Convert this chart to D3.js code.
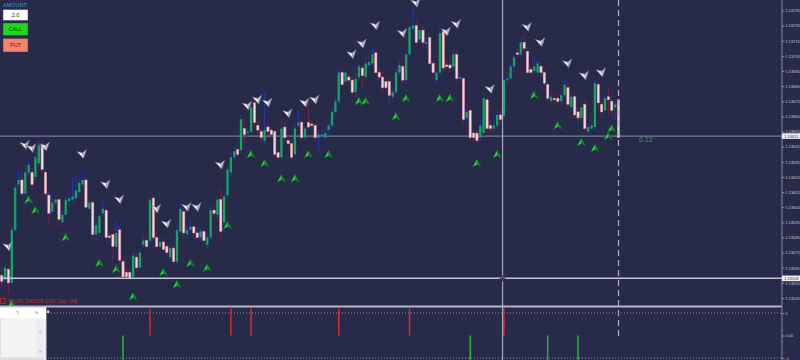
<!DOCTYPE html>
<html>
<head>
<meta charset="utf-8">
<script src="https://cdn.jsdelivr.net/npm/d3@7"></script>
<style>
  body { margin: 0; background: #282a4a; }
  svg { display: block; font-family: 'Liberation Sans', Arial, sans-serif; }
</style>
</head>
<body>
<div class="canvas"></div>
<script>
// M1 candles: [open, high, low, close]
const ohlc = [
  [1.13560,1.13565,1.13553,1.13556],[1.13557,1.13567,1.13555,1.13565],[1.13564,1.13565,1.13548,1.13555],
  [1.13555,1.13593,1.13553,1.13590],[1.13590,1.13621,1.13589,1.13618],[1.13620,1.13630,1.13618,1.13623],
  [1.13623,1.13630,1.13612,1.13614],[1.13614,1.13633,1.13612,1.13628],[1.13628,1.13636,1.13626,1.13633],
  [1.13628,1.13631,1.13616,1.13620],[1.13625,1.13642,1.13623,1.13638],[1.13634,1.13649,1.13633,1.13646],
  [1.13646,1.13649,1.13628,1.13630],[1.13628,1.13630,1.13612,1.13614],[1.13613,1.13615,1.13593,1.13601],
  [1.13602,1.13615,1.13600,1.13608],[1.13608,1.13613,1.13606,1.13610],[1.13610,1.13612,1.13592,1.13597],
  [1.13595,1.13603,1.13593,1.13600],[1.13600,1.13612,1.13599,1.13610],[1.13609,1.13616,1.13606,1.13611],
  [1.13610,1.13625,1.13608,1.13612],[1.13611,1.13626,1.13609,1.13616],[1.13615,1.13624,1.13613,1.13621],
  [1.13620,1.13628,1.13618,1.13623],[1.13623,1.13625,1.13603,1.13605],[1.13604,1.13611,1.13603,1.13608],
  [1.13608,1.13610,1.13585,1.13587],[1.13587,1.13595,1.13582,1.13593],[1.13588,1.13601,1.13586,1.13599],
  [1.13601,1.13610,1.13599,1.13604],[1.13603,1.13605,1.13582,1.13585],[1.13586,1.13588,1.13581,1.13585],
  [1.13587,1.13589,1.13570,1.13579],[1.13579,1.13597,1.13577,1.13588],[1.13590,1.13593,1.13567,1.13570],
  [1.13569,1.13571,1.13557,1.13559],[1.13562,1.13565,1.13557,1.13559],[1.13562,1.13564,1.13556,1.13558],
  [1.13559,1.13575,1.13557,1.13573],[1.13572,1.13575,1.13562,1.13565],[1.13565,1.13578,1.13564,1.13575],
  [1.13580,1.13587,1.13578,1.13583],[1.13583,1.13586,1.13577,1.13579],[1.13583,1.13612,1.13581,1.13610],
  [1.13611,1.13613,1.13583,1.13585],[1.13585,1.13588,1.13577,1.13579],[1.13579,1.13585,1.13578,1.13582],
  [1.13582,1.13585,1.13575,1.13577],[1.13579,1.13581,1.13573,1.13575],[1.13572,1.13580,1.13570,1.13578],
  [1.13578,1.13580,1.13567,1.13569],[1.13569,1.13593,1.13567,1.13590],[1.13589,1.13608,1.13587,1.13604],
  [1.13602,1.13606,1.13585,1.13588],[1.13587,1.13593,1.13585,1.13590],[1.13590,1.13597,1.13588,1.13592],
  [1.13592,1.13595,1.13585,1.13588],[1.13588,1.13590,1.13582,1.13585],[1.13585,1.13591,1.13583,1.13589],
  [1.13589,1.13591,1.13581,1.13583],[1.13580,1.13588,1.13578,1.13585],[1.13585,1.13606,1.13583,1.13603],
  [1.13603,1.13606,1.13599,1.13601],[1.13600,1.13612,1.13598,1.13610],[1.13610,1.13618,1.13585,1.13589],
  [1.13595,1.13614,1.13593,1.13612],[1.13613,1.13633,1.13611,1.13630],[1.13628,1.13641,1.13626,1.13638],
  [1.13638,1.13645,1.13636,1.13642],[1.13643,1.13646,1.13638,1.13640],[1.13643,1.13666,1.13641,1.13663],
  [1.13657,1.13664,1.13647,1.13653],[1.13654,1.13659,1.13651,1.13655],[1.13655,1.13674,1.13653,1.13671],
  [1.13674,1.13677,1.13658,1.13661],[1.13659,1.13663,1.13653,1.13656],[1.13655,1.13657,1.13648,1.13651],
  [1.13649,1.13681,1.13647,1.13656],[1.13658,1.13661,1.13653,1.13655],[1.13656,1.13658,1.13651,1.13653],
  [1.13655,1.13657,1.13638,1.13640],[1.13641,1.13643,1.13636,1.13638],[1.13638,1.13663,1.13636,1.13657],
  [1.13658,1.13661,1.13649,1.13651],[1.13649,1.13652,1.13645,1.13647],[1.13647,1.13649,1.13636,1.13638],
  [1.13640,1.13660,1.13638,1.13657],[1.13659,1.13669,1.13657,1.13661],[1.13661,1.13664,1.13649,1.13651],
  [1.13651,1.13659,1.13649,1.13657],[1.13661,1.13674,1.13656,1.13658],[1.13660,1.13663,1.13656,1.13659],
  [1.13659,1.13661,1.13649,1.13651],[1.13651,1.13655,1.13643,1.13653],[1.13652,1.13656,1.13649,1.13653],
  [1.13651,1.13657,1.13649,1.13654],[1.13656,1.13661,1.13654,1.13659],[1.13659,1.13671,1.13657,1.13668],
  [1.13668,1.13677,1.13666,1.13675],[1.13675,1.13697,1.13673,1.13694],[1.13694,1.13697,1.13684,1.13686],
  [1.13688,1.13696,1.13686,1.13694],[1.13691,1.13694,1.13687,1.13689],[1.13689,1.13692,1.13678,1.13681],
  [1.13681,1.13694,1.13678,1.13690],[1.13691,1.13700,1.13689,1.13698],[1.13697,1.13699,1.13684,1.13692],
  [1.13691,1.13704,1.13689,1.13700],[1.13699,1.13704,1.13697,1.13701],[1.13700,1.13710,1.13698,1.13706],
  [1.13707,1.13710,1.13692,1.13694],[1.13694,1.13697,1.13689,1.13691],[1.13691,1.13694,1.13681,1.13684],
  [1.13688,1.13690,1.13683,1.13684],[1.13688,1.13690,1.13673,1.13679],[1.13678,1.13684,1.13676,1.13681],
  [1.13681,1.13697,1.13679,1.13694],[1.13694,1.13702,1.13692,1.13699],[1.13698,1.13701,1.13687,1.13689],
  [1.13689,1.13709,1.13687,1.13706],[1.13706,1.13727,1.13704,1.13724],[1.13723,1.13739,1.13721,1.13725],
  [1.13725,1.13729,1.13712,1.13714],[1.13716,1.13725,1.13714,1.13722],[1.13722,1.13725,1.13710,1.13714],
  [1.13713,1.13717,1.13709,1.13714],[1.13717,1.13720,1.13698,1.13700],[1.13700,1.13702,1.13692,1.13694],
  [1.13689,1.13696,1.13687,1.13694],[1.13694,1.13725,1.13692,1.13720],[1.13721,1.13723,1.13694,1.13697],
  [1.13699,1.13702,1.13696,1.13698],[1.13699,1.13706,1.13694,1.13697],[1.13698,1.13710,1.13696,1.13706],
  [1.13706,1.13709,1.13688,1.13690],[1.13690,1.13693,1.13688,1.13691],[1.13690,1.13692,1.13661,1.13663],
  [1.13664,1.13673,1.13661,1.13668],[1.13669,1.13672,1.13649,1.13651],[1.13654,1.13657,1.13648,1.13651],
  [1.13654,1.13656,1.13647,1.13649],[1.13651,1.13663,1.13649,1.13659],[1.13654,1.13681,1.13652,1.13677],
  [1.13676,1.13678,1.13655,1.13657],[1.13659,1.13663,1.13654,1.13657],[1.13657,1.13664,1.13654,1.13659],
  [1.13659,1.13669,1.13657,1.13666],[1.13666,1.13669,1.13660,1.13663],[1.13665,1.13692,1.13663,1.13689],
  [1.13689,1.13694,1.13686,1.13690],[1.13690,1.13701,1.13689,1.13698],[1.13698,1.13708,1.13696,1.13704],
  [1.13707,1.13710,1.13704,1.13706],[1.13706,1.13717,1.13704,1.13714],[1.13714,1.13719,1.13708,1.13710],
  [1.13708,1.13710,1.13692,1.13694],[1.13696,1.13698,1.13691,1.13694],[1.13695,1.13704,1.13693,1.13698],
  [1.13694,1.13702,1.13692,1.13700],[1.13698,1.13700,1.13691,1.13694],[1.13694,1.13696,1.13685,1.13687],
  [1.13686,1.13688,1.13675,1.13677],[1.13675,1.13681,1.13673,1.13678],[1.13677,1.13680,1.13674,1.13676],
  [1.13677,1.13680,1.13672,1.13675],[1.13675,1.13683,1.13672,1.13679],[1.13679,1.13689,1.13677,1.13686],
  [1.13684,1.13687,1.13671,1.13673],[1.13671,1.13681,1.13669,1.13678],[1.13678,1.13681,1.13664,1.13666],
  [1.13668,1.13671,1.13661,1.13664],[1.13664,1.13674,1.13661,1.13671],[1.13673,1.13676,1.13655,1.13657],
  [1.13655,1.13660,1.13652,1.13658],[1.13657,1.13663,1.13655,1.13659],[1.13658,1.13689,1.13656,1.13687],
  [1.13686,1.13688,1.13671,1.13674],[1.13673,1.13676,1.13664,1.13668],[1.13669,1.13680,1.13667,1.13677],
  [1.13678,1.13685,1.13666,1.13676],[1.13675,1.13680,1.13665,1.13669],[1.13671,1.13676,1.13663,1.13673],
  [1.13676,1.13677,1.13650,1.13651]
]

// sell (white) arrows: candle index + price
const sellIdx = [2,7,9,13,24,31,35,46,49,55,58,65,73,76,79,85,90,93,104,107,111,119,123,132,135,145,156,160,168,173,178]
const sellPrice = [1.13579,1.13646,1.13644,1.13645,1.13640,1.13620,1.13610,1.13604,1.13594,1.13605,1.13605,1.13633,
  1.13672,1.13676,1.13674,1.13667,1.13674,1.13676,1.13706,1.13713,1.13725,1.13720,1.13740,1.13721,1.13726,
  1.13683,1.13724,1.13714,1.13700,1.13692,1.13694]

// buy (green) arrows
const buyIdx = [3,8,10,19,29,34,39,48,52,56,61,67,74,78,83,87,91,97,106,108,117,120,130,133,141,147,158,165,172,176,180,181]
const buyPrice = [1.13541,1.13610,1.13603,1.13585,1.13568,1.13564,1.13546,1.13562,1.13554,1.13568,1.13565,1.13593,
  1.13640,1.13634,1.13624,1.13624,1.13640,1.13640,1.13675,1.13675,1.13665,1.13677,1.13677,1.13677,1.13634,
  1.13640,1.13679,1.13659,1.13648,1.13644,1.13652,1.13657]

// lower indicator histogram
const barIdx = [36,44,68,74,100,121,139,149,162,171]
const barVal = [-1.2,1.2,1.2,1.2,1.2,1.2,-1.2,1.2,-1.2,-1.2]

const priceTicks = [1.13545,1.13555,1.13565,1.13575,1.13585,1.13595,1.13605,1.13615,1.13625,1.13635,
  1.13645,1.13655,1.13665,1.13675,1.13685,1.13695,1.13705,1.13715,1.13725,1.13735]
const indTicks = [-1, 0, 1]
const indLabels = ['-1', '0.00', '1']

const lastPrice = 1.13651
const crossPrice = 1.13558
const crossIdx = 148.6
const timerText = '0.12'
const amount = '2.0'
const statusText = 'M1(30): DM/DOS [2:00 | Exp: 1M]'

const width = 800, height = 360
const axisX = 782

const svg = d3.select('.canvas')
              .append('svg')
              .attr('width', width)
              .attr('height', height)

svg.append('rect').attr('width', width).attr('height', height).attr('fill', '#282a4a')

//scales
const x = d3.scaleLinear()
            .domain([0, ohlc.length - 1])
            .range([1.7, 618.5])
const y = d3.scaleLinear()
            .domain([1.13545, 1.13735])
            .range([298, 10.5])
const yInd = d3.scaleLinear()
               .domain([-1, 1])
               .range([358, 313])

// current price line
svg.append('line')
   .attr('x1', 0).attr('x2', axisX)
   .attr('y1', y(lastPrice) - 1.5).attr('y2', y(lastPrice) - 1.5)
   .attr('stroke', '#8e90a8').attr('stroke-width', 1)

// candles
const candles = svg.append('g')
                   .selectAll('g')
                   .data(ohlc)
                   .join('g')

candles.append('line')
       .attr('x1', (d, i) => x(i))
       .attr('x2', (d, i) => x(i))
       .attr('y1', d => y(d[1]))
       .attr('y2', d => y(d[2]))
       .attr('stroke', d => d[3] >= d[0] ? '#2434b4' : '#702448')
       .attr('stroke-width', 1)

candles.append('rect')
       .attr('x', (d, i) => x(i) - 1.15)
       .attr('width', 2.3)
       .attr('y', d => y(Math.max(d[0], d[3])))
       .attr('height', d => Math.max(1, Math.abs(y(d[0]) - y(d[3]))))
       .attr('fill', d => d[3] >= d[0] ? '#15a463' : '#f7d6d9')
       .attr('stroke', d => d[3] >= d[0] ? 'none' : '#d98a9a')
       .attr('stroke-width', 0.5)

// sell arrows
const sell = svg.append('g')
                .selectAll('g')
                .data(sellIdx)
                .join('g')
                .attr('transform', (d, i) => `translate(${x(d)}, ${y(sellPrice[i])}) rotate(-12)`)
sell.append('path').attr('d', 'M0,4.5 L-5,-4 L0,-1.5 Z').attr('fill', '#f4f4f8')
sell.append('path').attr('d', 'M0,4.5 L5,-4 L0,-1.5 Z').attr('fill', '#b9bbcb')
sell.append('path').attr('d', 'M0,4.5 L-5,-4 L0,-1.5 L5,-4 Z')
    .attr('fill', 'none').attr('stroke', '#5e6078').attr('stroke-width', 0.5)

// buy arrows
const buy = svg.append('g')
               .selectAll('g')
               .data(buyIdx)
               .join('g')
               .attr('transform', (d, i) => `translate(${x(d)}, ${y(buyPrice[i])})`)
buy.append('path').attr('d', 'M0,-4.5 L-4.5,4 L0,1.5 Z').attr('fill', '#35d24e')
buy.append('path').attr('d', 'M0,-4.5 L4.5,4 L0,1.5 Z').attr('fill', '#13902c')
buy.append('path').attr('d', 'M0,-4.5 L-4.5,4 L0,1.5 L4.5,4 Z')
   .attr('fill', 'none').attr('stroke', '#0b4a18').attr('stroke-width', 0.5)

// dashed line at the last candle
svg.append('line')
   .attr('x1', x(ohlc.length - 1)).attr('x2', x(ohlc.length - 1))
   .attr('y1', 0).attr('y2', 336)
   .attr('stroke', '#b4b6c8').attr('stroke-width', 1.2)
   .attr('stroke-dasharray', '6,4')

svg.append('text')
   .attr('x', 639).attr('y', 141.5)
   .attr('fill', '#3aa04c').attr('font-size', 7)
   .text(timerText)

// indicator panel
svg.append('line')
   .attr('x1', 0).attr('x2', axisX).attr('y1', 306.5).attr('y2', 306.5)
   .attr('stroke', '#b4b6c8').attr('stroke-width', 2)

svg.selectAll('.lvl')
   .data([1, -1])
   .join('line')
   .attr('class', 'lvl')
   .attr('x1', 48).attr('x2', axisX)
   .attr('y1', d => yInd(d)).attr('y2', d => yInd(d))
   .attr('stroke', '#8a8ca2').attr('stroke-width', 1)
   .attr('stroke-dasharray', '1,2')

svg.append('g')
   .selectAll('line')
   .data(barIdx)
   .join('line')
   .attr('x1', d => x(d)).attr('x2', d => x(d))
   .attr('y1', yInd(0))
   .attr('y2', (d, i) => yInd(barVal[i]))
   .attr('stroke', (d, i) => barVal[i] > 0 ? '#d42a2a' : '#1fb030')
   .attr('stroke-width', 1.6)

// crosshair
svg.append('line')
   .attr('x1', x(crossIdx)).attr('x2', x(crossIdx))
   .attr('y1', 0).attr('y2', height)
   .attr('stroke', '#a6a8bc').attr('stroke-width', 1.2)
svg.append('line')
   .attr('x1', 0).attr('x2', axisX)
   .attr('y1', y(crossPrice)).attr('y2', y(crossPrice))
   .attr('stroke', '#c4c6d4').attr('stroke-width', 1.5)
svg.append('path')
   .attr('d', `M${x(crossIdx) - 3},${y(crossPrice)} h6 M${x(crossIdx)},${y(crossPrice) - 3} v6`)
   .attr('stroke', '#1a1a22').attr('stroke-width', 0.8)

// axes
svg.append('line')
   .attr('x1', axisX).attr('x2', axisX).attr('y1', 0).attr('y2', height)
   .attr('stroke', '#8a8ca2').attr('stroke-width', 1)

const yAxis = d3.axisRight(y)
                .tickValues(priceTicks)
                .tickFormat(d3.format('.5f'))
                .tickSize(2.5)
                .tickPadding(1)
const yAxisGroup = svg.append('g')
                      .attr('transform', `translate(${axisX}, 0)`)
                      .call(yAxis)

const indAxis = d3.axisRight(yInd)
                  .tickValues(indTicks)
                  .tickFormat((d, i) => indLabels[i])
                  .tickSize(2.5)
                  .tickPadding(1)
const indAxisGroup = svg.append('g')
                        .attr('transform', `translate(${axisX}, 0)`)
                        .call(indAxis)

;[yAxisGroup, indAxisGroup].forEach(g => {
    g.select('.domain').remove()
    g.selectAll('line').attr('stroke', '#8a8ca2')
    g.selectAll('text').attr('fill', '#c6c8d6').attr('font-size', 4)
})

// price boxes
const boxes = svg.append('g')
                 .selectAll('g')
                 .data([lastPrice, crossPrice])
                 .join('g')
                 .attr('transform', (d, i) => `translate(${axisX}, ${y(d) - (i === 0 ? 1.5 : 0)})`)
boxes.append('rect')
     .attr('x', 0).attr('y', -2.8).attr('width', 18).attr('height', 5.6)
     .attr('fill', '#eceef4')
boxes.append('text')
     .attr('x', 2).attr('y', 1.5)
     .attr('fill', '#30324a').attr('font-size', 4)
     .text(d => d3.format('.5f')(d))

// trade panel, top left
svg.append('text')
   .attr('x', 3).attr('y', 6.5)
   .attr('fill', '#2c9fd8').attr('font-size', 5.5)
   .text('AMOUNT:')

const buttons = [
    {label: amount, y: 9.5, h: 11, fill: '#ffffff', text: '#222'},
    {label: 'CALL', y: 23, h: 12.5, fill: '#1fd81f', text: '#1a3a1a'},
    {label: 'PUT', y: 38.5, h: 13.5, fill: '#f4846e', text: '#4a2018'}
]
const btn = svg.append('g')
               .selectAll('g')
               .data(buttons)
               .join('g')
btn.append('rect')
   .attr('x', 3).attr('y', d => d.y).attr('width', 25).attr('height', d => d.h)
   .attr('fill', d => d.fill).attr('stroke', '#3a3c5a').attr('stroke-width', 0.5)
btn.append('text')
   .attr('x', 15.5).attr('y', d => d.y + d.h / 2 + 2)
   .attr('text-anchor', 'middle')
   .attr('fill', d => d.text).attr('font-size', 5.5)
   .text(d => d.label)

// status line
svg.append('rect')
   .attr('x', 0.5).attr('y', 298.5).attr('width', 4.5).attr('height', 5)
   .attr('fill', 'none').attr('stroke', '#d02828').attr('stroke-width', 0.8)
svg.append('text')
   .attr('x', 8).attr('y', 303.3)
   .attr('fill', '#d02828').attr('font-size', 4.6)
   .text(statusText)

// small dialog, bottom left
const dlg = svg.append('g')
dlg.append('rect')
   .attr('x', 0).attr('y', 307.5).attr('width', 46).attr('height', 53)
   .attr('fill', '#f3f3f3').attr('stroke', '#cfd0d6').attr('stroke-width', 1)
dlg.append('rect')
   .attr('x', 0).attr('y', 307.5).attr('width', 46).attr('height', 10.5)
   .attr('fill', '#ffffff')
dlg.append('text').attr('x', 17.5).attr('y', 315).attr('fill', '#9a9a9a').attr('font-size', 6).attr('text-anchor', 'middle').text('?')
dlg.append('text').attr('x', 36.5).attr('y', 315).attr('fill', '#9a9a9a').attr('font-size', 7).attr('text-anchor', 'middle').text('×')
dlg.append('rect')
   .attr('x', 36).attr('y', 320).attr('width', 7.5).attr('height', 37)
   .attr('fill', '#ececec')
dlg.append('text').attr('x', 39.7).attr('y', 333).attr('fill', '#b0b0b0').attr('font-size', 4).attr('text-anchor', 'middle').text('▴')
dlg.append('text').attr('x', 39.7).attr('y', 353).attr('fill', '#b0b0b0').attr('font-size', 4).attr('text-anchor', 'middle').text('▾')
dlg.append('rect')
   .attr('x', 1).attr('y', 357.5).attr('width', 43).attr('height', 2.5)
   .attr('fill', '#dcdcdc')
svg.append('rect')
   .attr('x', 47).attr('y', 310.5).attr('width', 2.5).attr('height', 2.5)
   .attr('fill', '#c8cad6')
</script>
</body>
</html>
